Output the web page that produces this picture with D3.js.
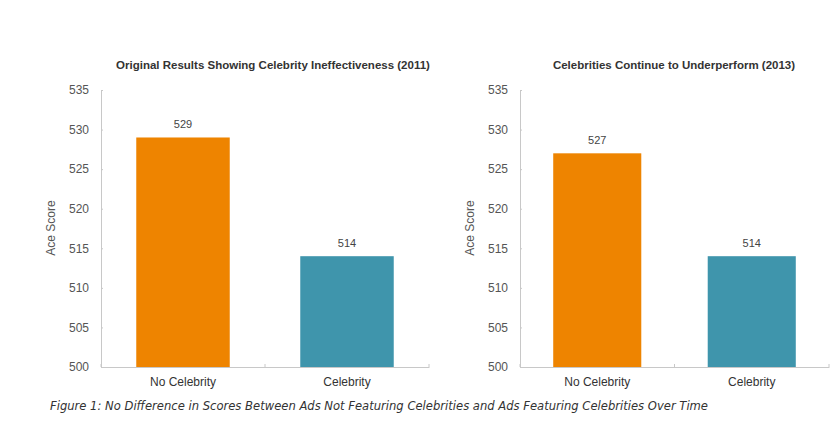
<!DOCTYPE html>
<html><head><meta charset="utf-8">
<script src="https://cdn.jsdelivr.net/npm/d3@7"></script>
<style>
body{margin:0;background:#fff;}
svg{display:block;}
</style></head>
<body>
<svg id="c" width="840" height="440"></svg>
<script>
const categories = ["No Celebrity", "Celebrity"];
const values2011 = [529, 514];
const values2013 = [527, 514];
const titles = ["Original Results Showing Celebrity Ineffectiveness (2011)", "Celebrities Continue to Underperform (2013)"];
const yTicks = [500, 505, 510, 515, 520, 525, 530, 535];
const barColors = ["#EE8400", "#3F95AC"];
const yLabel = "Ace Score";
const caption = "Figure 1: No Difference in Scores Between Ads Not Featuring Celebrities and Ads Featuring Celebrities Over Time";

const svg = d3.select("#c");
const panels = [
  {values: values2011, title: titles[0], x0: 101, x1: 429, titleX: 273, labelX: 55},
  {values: values2013, title: titles[1], x0: 520, x1: 829, titleX: 674, labelX: 474}
];
const yTop = 90, yBot = 367;
const y = d3.scaleLinear().domain([500, 535]).range([yBot, yTop]);

panels.forEach(p => {
  const g = svg.append("g");
  const x = d3.scaleBand().domain(categories).range([p.x0, p.x1]).paddingInner(0.43).paddingOuter(0.215);

  // y axis
  const ya = g.append("g").attr("transform", `translate(${p.x0},0)`)
    .call(d3.axisLeft(y).tickValues(yTicks).tickSize(-2).tickPadding(12).tickSizeOuter(0));
  ya.select(".domain").attr("stroke", "#c8c8c8");
  ya.selectAll(".tick line").attr("stroke", "#c8c8c8");
  ya.selectAll("text").attr("fill", "#555").style("font-family", "Liberation Sans, Arial, sans-serif").style("font-size", "12px");

  // bars
  g.selectAll("rect").data(p.values).enter().append("rect")
    .attr("x", (d, i) => x(categories[i]))
    .attr("width", x.bandwidth())
    .attr("y", d => y(d))
    .attr("height", d => yBot - y(d))
    .attr("fill", (d, i) => barColors[i]);

  // x axis
  const xa = g.append("g").attr("transform", `translate(0,${yBot})`)
    .call(d3.axisBottom(x).tickSize(0).tickPadding(10));
  xa.select(".domain").attr("stroke", "#c8c8c8");
  xa.selectAll("text").attr("fill", "#333").style("font-family", "Liberation Sans, Arial, sans-serif").style("font-size", "12px");
  // boundary tick marks
  const bounds = [p.x0, (p.x0 + p.x1) / 2, p.x1];
  g.selectAll(".bt").data(bounds).enter().append("line")
    .attr("x1", d => d).attr("x2", d => d).attr("y1", yBot).attr("y2", yBot - 3)
    .attr("stroke", "#c8c8c8");

  // value labels
  g.selectAll(".vl").data(p.values).enter().append("text")
    .attr("x", (d, i) => x(categories[i]) + x.bandwidth() / 2)
    .attr("y", d => y(d) - 9)
    .attr("text-anchor", "middle")
    .attr("fill", "#444")
    .style("font-family", "Liberation Sans, Arial, sans-serif").style("font-size", "11px")
    .text(d => d);

  // title
  g.append("text").attr("x", p.titleX).attr("y", 69).attr("text-anchor", "middle")
    .attr("fill", "#333").style("font-family", "Liberation Sans, Arial, sans-serif")
    .style("font-size", "11.5px").style("font-weight", "bold").text(p.title);

  // y label
  g.append("text").attr("transform", `translate(${p.labelX},228) rotate(-90)`)
    .attr("text-anchor", "middle").attr("fill", "#555")
    .style("font-family", "Liberation Sans, Arial, sans-serif").style("font-size", "12px")
    .text(yLabel);
});

svg.append("text").attr("x", 50).attr("y", 410)
  .attr("fill", "#333")
  .style("font-family", "'Liberation Sans Narrow', 'DejaVu Sans Condensed', sans-serif")
  .style("font-stretch", "condensed")
  .style("font-style", "italic").style("font-size", "13px")
  .attr("textLength", 658).attr("lengthAdjust", "spacingAndGlyphs")
  .text(caption);
</script>
</body></html>
